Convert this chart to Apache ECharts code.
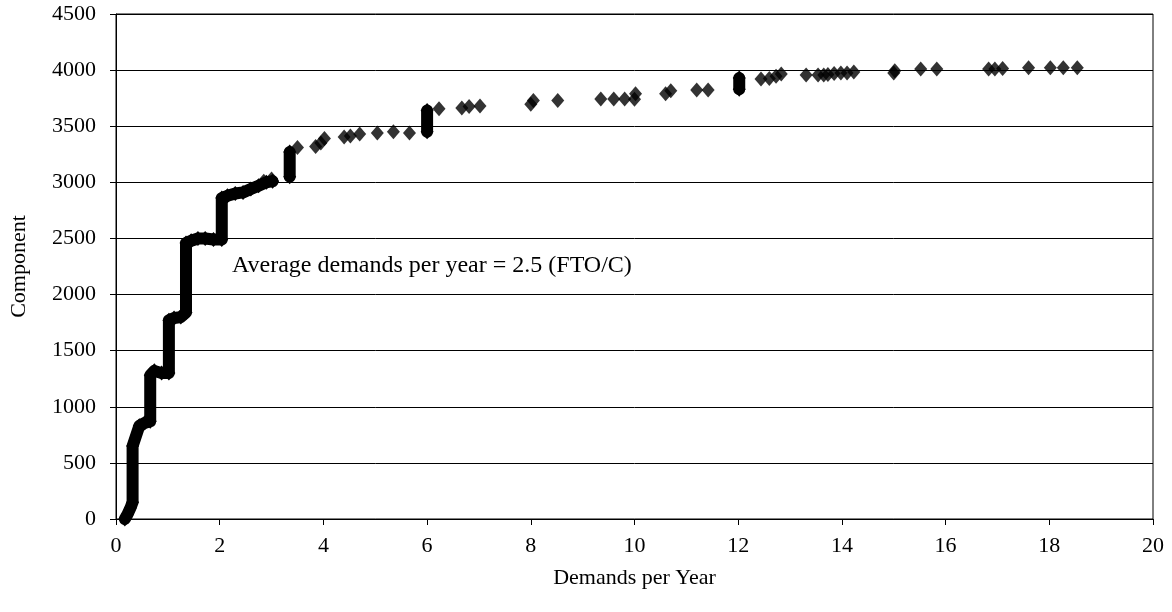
<!DOCTYPE html>
<html>
<head>
<meta charset="utf-8">
<script src="https://cdn.jsdelivr.net/npm/echarts@6/dist/echarts.min.js"></script>
<style>
  html, body { margin: 0; padding: 0; background: #fff; }
  #chart { width: 1172px; height: 612px; }
</style>
</head>
<body>
<div id="chart"></div>
<script>
// Axis ranges
const xMax = 20, xStep = 2;
const yMax = 4500, yStep = 500;

// Dense stretches of the cumulative curve, where many components share
// (nearly) the same demand rate; null separates one stretch from the next.
const curveX = [0.17, 0.22, 0.28, 0.32, 0.32, 0.45, 0.55, 0.66, 0.66, 0.74, 0.88, 1.02, 1.02, 1.12, 1.25, 1.35, 1.35,
                1.45, 1.58, 1.72, 1.88, 2.04, 2.04, 2.15, 2.30, 2.45, 2.60, 2.75, 2.90, 3.02,
                null, 3.35, 3.35,
                null, 6.00, 6.00,
                null, 12.02, 12.02];
const curveY = [0, 40, 100, 150, 650, 830, 855, 870, 1280, 1320, 1300, 1300, 1770, 1790, 1800, 1840, 2460,
                2480, 2500, 2500, 2490, 2490, 2860, 2880, 2900, 2910, 2940, 2970, 3000, 3010,
                null, 3050, 3270,
                null, 3450, 3640,
                null, 3830, 3930];

// Individual components further up the curve
const pointX = [2.85, 3.00, 3.50, 3.85, 3.95, 4.02, 4.40, 4.52, 4.70, 5.04, 5.35, 5.66,
                6.23, 6.67, 6.81, 7.02, 8.00, 8.05, 8.52, 9.35, 9.60, 9.81, 10.00, 10.02,
                10.60, 10.70, 11.20, 11.42, 12.44, 12.60, 12.73, 12.83, 13.31, 13.54, 13.65, 13.73,
                13.85, 13.98, 14.10, 14.23, 15.00, 15.02, 15.52, 15.83, 16.83, 16.95, 17.10,
                17.60, 18.02, 18.27, 18.54];
const pointY = [3010, 3030, 3310, 3320, 3350, 3390, 3404, 3413, 3430, 3440, 3450, 3440,
                3655, 3662, 3675, 3680, 3695, 3730, 3730, 3742, 3742, 3742, 3740, 3790,
                3790, 3815, 3822, 3822, 3920, 3925, 3945, 3965, 3956, 3956, 3956, 3960,
                3970, 3974, 3974, 3983, 3975, 3995, 4010, 4010, 4010, 4010, 4015,
                4020, 4020, 4020, 4020];

const xTitle = 'Demands per Year';
const yTitle = 'Component';
const noteText = 'Average demands per year = 2.5 (FTO/C)';

const FONT = '"Liberation Serif", "Times New Roman", serif';

const curveData = curveX.map((x, i) => (x === null || curveY[i] === null) ? '-' : [x, curveY[i]]);
const pointData = pointX.map((x, i) => [x, pointY[i]]);

const chart = echarts.init(document.getElementById('chart'), null, { renderer: 'canvas' });
chart.setOption({
  animation: false,
  backgroundColor: '#fff',
  textStyle: { fontFamily: FONT, color: '#000' },
  grid: {
    left: 113, right: 19, top: 14, bottom: 93,
    show: true, borderColor: '#000', borderWidth: 1, backgroundColor: 'transparent'
  },
  xAxis: {
    type: 'value', min: 0, max: xMax, interval: xStep,
    name: xTitle, nameLocation: 'middle', nameGap: 48,
    nameTextStyle: { fontFamily: FONT, fontSize: 22, color: '#000' },
    axisLine: { show: true, lineStyle: { color: '#000', width: 1 } },
    axisTick: { show: true, inside: false, length: 6, lineStyle: { color: '#000' } },
    axisLabel: { fontFamily: FONT, fontSize: 22, color: '#000', margin: 16 },
    splitLine: { show: false }
  },
  yAxis: {
    type: 'value', min: 0, max: yMax, interval: yStep,
    name: yTitle, nameLocation: 'middle', nameGap: 86, nameRotate: 90,
    nameTextStyle: { fontFamily: FONT, fontSize: 22, color: '#000' },
    axisLine: { show: true, lineStyle: { color: '#000', width: 1 } },
    axisTick: { show: true, inside: false, length: 6, lineStyle: { color: '#000' } },
    axisLabel: { fontFamily: FONT, fontSize: 22, color: '#000', margin: 20,
                 formatter: (v) => String(v) },
    splitLine: { show: true, lineStyle: { color: '#000', width: 1 } }
  },
  series: [
    {
      type: 'line',
      data: curveData,
      connectNulls: false,
      symbol: 'diamond',
      symbolSize: [13, 15],
      showSymbol: true,
      itemStyle: { color: '#000' },
      lineStyle: { color: '#000', width: 12, cap: 'round', join: 'round' },
      z: 3
    },
    {
      type: 'scatter',
      data: pointData,
      symbol: 'diamond',
      symbolSize: [13, 15],
      itemStyle: { color: '#000' },
      z: 3
    }
  ],
  graphic: [
    {
      type: 'text',
      left: 232, top: 254,
      style: { text: noteText, fontFamily: FONT, fontSize: 24, fill: '#000' },
      z: 10
    }
  ]
});
</script>
</body>
</html>
